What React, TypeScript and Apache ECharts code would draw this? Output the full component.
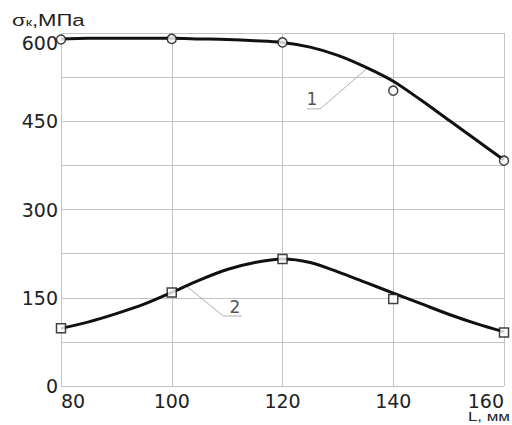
import React, { useEffect, useRef } from "react";
import * as echarts from "echarts";

// Marker (measured) points
const xMarks = [80, 100, 120, 140, 160];
const circleVals = [589, 590, 584, 502, 383];
const squareVals = [98, 159, 216, 148, 91];

// Fitted curves
const curveX = [80, 85, 90, 95, 100, 105, 110, 115, 120, 125, 130, 135, 140, 145, 150, 155, 160];
const curve1Y = [590, 591, 591, 591, 591, 590, 589, 587, 584, 576, 562, 542, 518, 486, 452, 418, 384];
const curve2Y = [98, 109, 123, 139, 159, 180, 198, 210, 216, 210, 194, 176, 158, 140, 122, 106, 92];

// Leader lines for curve numbers
const leader1 = [[135.3, 540], [126.8, 471], [124.4, 471]];
const leader2 = [[102.9, 168], [109.3, 119], [112.7, 119]];
const curveLabels = [
  { name: "1", value: [125.3, 487] },
  { name: "2", value: [111.4, 134] },
];

const xTicks = { min: 80, max: 160, interval: 20 };
const yTicks = { min: 0, max: 600, interval: 75, labelStep: 150 };

const FONT = "DejaVu Sans";

export default function App() {
  const ref = useRef<HTMLDivElement>(null);
  useEffect(() => {
    if (!ref.current) return;
    const chart = echarts.init(ref.current, null, { renderer: "svg" });
    const zip = (xs: number[], ys: number[]) => xs.map((x, i) => [x, ys[i]]);
    chart.setOption({
      animation: false,
      backgroundColor: "#ffffff",
      grid: { left: 61, right: 8, top: 33, bottom: 39, containLabel: false },
      xAxis: {
        type: "value",
        min: xTicks.min,
        max: xTicks.max,
        interval: xTicks.interval,
        axisLine: { show: false },
        axisTick: { show: false },
        splitLine: { show: true, lineStyle: { color: "#c4c4c4", width: 1 } },
        axisLabel: {
          color: "#222",
          fontFamily: FONT,
          fontSize: 19,
          margin: 5,
          alignMinLabel: "left",
          alignMaxLabel: "right",
        },
      },
      yAxis: {
        type: "value",
        min: yTicks.min,
        max: yTicks.max,
        interval: yTicks.interval,
        axisLine: { show: false },
        axisTick: { show: false },
        splitLine: { show: true, lineStyle: { color: "#c4c4c4", width: 1 } },
        axisLabel: {
          color: "#222",
          fontFamily: FONT,
          fontSize: 19,
          margin: 3,
          verticalAlignMaxLabel: "top",
          formatter: (v: number) => (v % yTicks.labelStep === 0 ? String(v) : ""),
        },
      },
      graphic: [
        {
          type: "text",
          left: 12,
          top: 11,
          scaleX: 1.3,
          style: {
            text: "{a|σ}{b|к}{a|,МПа}",
            fill: "#222",
            rich: {
              a: { fontFamily: "Liberation Sans", fontSize: 17, fill: "#222", verticalAlign: "bottom" },
              b: { fontFamily: "Liberation Sans", fontSize: 11, fill: "#222", verticalAlign: "bottom" },
            },
          },
        },
        {
          type: "text",
          right: 2,
          top: 410,
          scaleX: 1.3,
          style: { text: "L, мм", fontFamily: "Liberation Sans", fontSize: 13, fill: "#222" },
        },
      ],
      series: [
        {
          type: "line",
          data: zip(curveX, curve1Y),
          smooth: 0.3,
          showSymbol: false,
          lineStyle: { color: "#111", width: 3 },
          z: 3,
        },
        {
          type: "line",
          data: zip(curveX, curve2Y),
          smooth: 0.3,
          showSymbol: false,
          lineStyle: { color: "#111", width: 3 },
          z: 3,
        },
        {
          type: "line",
          data: leader1,
          showSymbol: false,
          lineStyle: { color: "#b0b0b0", width: 1 },
          z: 2,
        },
        {
          type: "line",
          data: leader2,
          showSymbol: false,
          lineStyle: { color: "#b0b0b0", width: 1 },
          z: 2,
        },
        {
          type: "scatter",
          data: zip(xMarks, circleVals),
          symbol: "circle",
          symbolSize: 9,
          itemStyle: { color: "#fff", borderColor: "#111", borderWidth: 1.5 },
          z: 4,
        },
        {
          type: "scatter",
          data: zip(xMarks, squareVals),
          symbol: "rect",
          symbolSize: 9,
          itemStyle: { color: "#fff", borderColor: "#111", borderWidth: 1.5 },
          z: 4,
        },
        {
          type: "scatter",
          data: curveLabels,
          symbolSize: 0,
          label: {
            show: true,
            position: "inside",
            formatter: "{b}",
            fontFamily: FONT,
            fontSize: 17,
            color: "#222",
          },
          z: 5,
        },
      ],
    });
    return () => chart.dispose();
  }, []);
  return (
    <div
      ref={ref}
      style={{ position: "fixed", left: 0, top: 0, width: 512, height: 425 }}
    />
  );
}
